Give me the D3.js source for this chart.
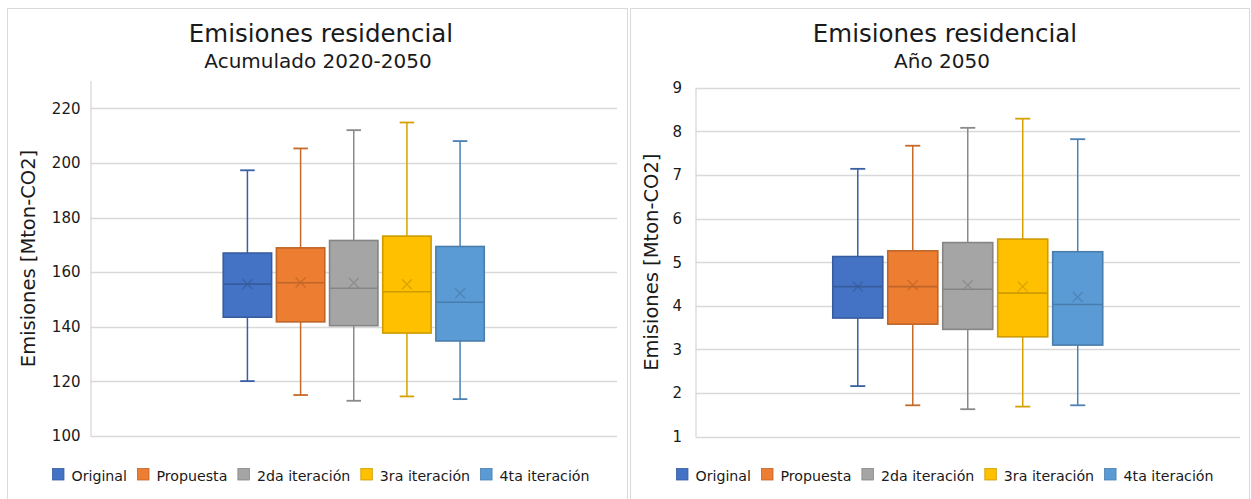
<!DOCTYPE html>
<html>
<head>
<meta charset="utf-8">
<script src="https://cdn.jsdelivr.net/npm/d3@7"></script>
<style>
  html, body { margin: 0; padding: 0; background: #fff; }
  svg { display: block; font-family: "DejaVu Sans", Verdana, sans-serif; }
</style>
</head>
<body>
<svg id="chart" width="1251" height="499"></svg>
<script>
// Series shown in both panels
const seriesNames = ["Original", "Propuesta", "2da iteración", "3ra iteración", "4ta iteración"];
const seriesColors = ["#4472C4", "#ED7D31", "#A5A5A5", "#FFC000", "#5B9BD5"];

// Cumulative emissions 2020-2050 [Mton-CO2]
const accMin    = [120.1, 115.0, 112.9, 114.5, 113.5];
const accQ1     = [143.5, 141.8, 140.4, 137.7, 134.8];
const accMedian = [155.6, 156.1, 154.1, 152.8, 149.0];
const accQ3     = [167.0, 168.9, 171.6, 173.2, 169.4];
const accMax    = [197.3, 205.3, 212.0, 214.8, 208.0];
const accMean   = [155.6, 156.2, 156.1, 155.6, 152.3];
const accTicks  = [100, 120, 140, 160, 180, 200, 220];

// Emissions in year 2050 [Mton-CO2]
const y50Min    = [2.16, 1.72, 1.63, 1.69, 1.72];
const y50Q1     = [3.72, 3.58, 3.46, 3.29, 3.10];
const y50Median = [4.44, 4.44, 4.38, 4.29, 4.03];
const y50Q3     = [5.13, 5.26, 5.45, 5.53, 5.24];
const y50Max    = [7.14, 7.67, 8.08, 8.29, 7.82];
const y50Mean   = [4.44, 4.47, 4.47, 4.44, 4.20];
const y50Ticks  = [1, 2, 3, 4, 5, 6, 7, 8, 9];

const svg = d3.select("#chart");
const textColor = "#1a1a1a";
const gridColor = "#d9d9d9";

function buildRows(mins, q1s, meds, q3s, maxs, means) {
  return seriesNames.map((name, i) => ({
    name, color: seriesColors[i],
    min: mins[i], q1: q1s[i], median: meds[i], q3: q3s[i], max: maxs[i], mean: means[i]
  }));
}

function drawPanel(cfg) {
  const g = svg.append("g");

  // outer frame of the chart area
  g.append("rect")
    .attr("x", cfg.frame.x + 0.5).attr("y", cfg.frame.y + 0.5)
    .attr("width", cfg.frame.w).attr("height", cfg.frame.h)
    .attr("fill", "#fff").attr("stroke", gridColor).attr("stroke-width", 1);

  const cx = cfg.titleX;

  g.append("text")
    .attr("x", cx).attr("y", 41.5)
    .attr("text-anchor", "middle")
    .attr("font-size", 24.5).attr("fill", textColor)
    .text(cfg.title);
  g.append("text")
    .attr("x", cx - 3).attr("y", 68)
    .attr("text-anchor", "middle")
    .attr("font-size", 20).attr("fill", textColor)
    .text(cfg.subtitle);

  const p = cfg.plot;
  const y = d3.scaleLinear().domain(cfg.domain).range([p.bottom, p.top]);

  // gridlines
  g.append("g").selectAll("line").data(cfg.ticks).join("line")
    .attr("x1", p.left).attr("x2", p.right)
    .attr("y1", d => Math.round(y(d)) + 0.5).attr("y2", d => Math.round(y(d)) + 0.5)
    .attr("stroke", gridColor).attr("stroke-width", 1.3);

  // vertical axis line
  g.append("line")
    .attr("x1", p.left + 0.5).attr("x2", p.left + 0.5)
    .attr("y1", p.top).attr("y2", p.bottom)
    .attr("stroke", gridColor).attr("stroke-width", 1.3);

  // tick labels
  const axis = d3.axisLeft(y).tickValues(cfg.ticks).tickSize(0).tickPadding(cfg.tickPad);
  const ax = g.append("g").attr("transform", `translate(${p.left},0)`).call(axis);
  ax.select(".domain").remove();
  ax.selectAll("text")
    .attr("font-size", 15).attr("fill", textColor)
    .attr("font-family", "DejaVu Sans, Verdana, sans-serif");

  // y axis title
  g.append("text")
    .attr("transform", `translate(${cfg.yTitleX},${(p.top + p.bottom) / 2}) rotate(-90)`)
    .attr("text-anchor", "middle").attr("dominant-baseline", "central")
    .attr("font-size", 19.5).attr("fill", textColor)
    .text("Emisiones [Mton-CO2]");

  // band scales: one category holding five series
  const outer = d3.scaleBand().domain(["all"]).range([p.left, p.right]).padding(0.329);
  const inner = d3.scaleBand().domain(seriesNames)
    .range([0, outer.bandwidth()]).paddingInner(0.09).paddingOuter(0.045);

  const rows = cfg.rows;
  const bw = inner.bandwidth();
  const capW = bw * 0.3;

  const boxes = g.append("g").selectAll("g").data(rows).join("g")
    .attr("transform", d => `translate(${outer("all") + inner(d.name)},0)`);

  const lineCol = d => d3.color(d.color).darker(0.5).formatHex();
  const edgeCol = d => d3.color(d.color).darker(0.6).formatHex();

  // whiskers
  boxes.append("line")
    .attr("x1", bw / 2).attr("x2", bw / 2)
    .attr("y1", d => y(d.max)).attr("y2", d => y(d.q3))
    .attr("stroke", lineCol).attr("stroke-width", 1.5);
  boxes.append("line")
    .attr("x1", bw / 2).attr("x2", bw / 2)
    .attr("y1", d => y(d.q1)).attr("y2", d => y(d.min))
    .attr("stroke", lineCol).attr("stroke-width", 1.5);
  boxes.append("line")
    .attr("x1", bw / 2 - capW / 2).attr("x2", bw / 2 + capW / 2)
    .attr("y1", d => y(d.max)).attr("y2", d => y(d.max))
    .attr("stroke", lineCol).attr("stroke-width", 1.8);
  boxes.append("line")
    .attr("x1", bw / 2 - capW / 2).attr("x2", bw / 2 + capW / 2)
    .attr("y1", d => y(d.min)).attr("y2", d => y(d.min))
    .attr("stroke", lineCol).attr("stroke-width", 1.8);

  // boxes
  boxes.append("rect")
    .attr("x", 0).attr("width", bw)
    .attr("y", d => y(d.q3)).attr("height", d => y(d.q1) - y(d.q3))
    .attr("fill", d => d.color)
    .attr("stroke", edgeCol).attr("stroke-width", 1.6);

  // median
  boxes.append("line")
    .attr("x1", 0).attr("x2", bw)
    .attr("y1", d => y(d.median)).attr("y2", d => y(d.median))
    .attr("stroke", edgeCol).attr("stroke-width", 1.6);

  // mean marker
  const m = 5;
  boxes.append("path")
    .attr("d", d => {
      const c = bw / 2, v = y(d.mean);
      return `M${c - m},${v - m}L${c + m},${v + m}M${c - m},${v + m}L${c + m},${v - m}`;
    })
    .attr("stroke", edgeCol).attr("stroke-opacity", 0.75).attr("stroke-width", 1.4)
    .attr("fill", "none");

  // legend
  const legend = g.append("g");
  const items = legend.selectAll("g").data(rows).join("g");
  items.append("rect")
    .attr("width", 11.5).attr("height", 11.5).attr("y", 468.5)
    .attr("fill", d => d.color).attr("stroke", edgeCol).attr("stroke-width", 0.8);
  items.append("text")
    .attr("x", 19).attr("y", 480.5)
    .attr("font-size", 14.2).attr("fill", textColor)
    .text(d => d.name);
  let xPos = 0;
  const offsets = [];
  items.each(function () {
    offsets.push(xPos);
    const w = d3.select(this).select("text").node().getComputedTextLength();
    xPos += 19 + w + 10.5;
  });
  const total = xPos - 10.5;
  const start = cx - total / 2;
  items.attr("transform", (d, i) => `translate(${start + offsets[i]},0)`);
}

drawPanel({
  frame: { x: 7, y: 8, w: 620, h: 500 },
  titleX: 321,
  title: "Emisiones residencial",
  subtitle: "Acumulado 2020-2050",
  plot: { left: 90.5, right: 617, top: 81, bottom: 436 },
  domain: [100, 230],
  ticks: accTicks,
  tickPad: 10,
  yTitleX: 28,
  rows: buildRows(accMin, accQ1, accMedian, accQ3, accMax, accMean)
});

drawPanel({
  frame: { x: 630, y: 8, w: 619, h: 500 },
  titleX: 945,
  title: "Emisiones residencial",
  subtitle: "Año 2050",
  plot: { left: 695.5, right: 1240, top: 87.7, bottom: 436.7 },
  domain: [1, 9],
  ticks: y50Ticks,
  tickPad: 13.5,
  yTitleX: 651,
  rows: buildRows(y50Min, y50Q1, y50Median, y50Q3, y50Max, y50Mean)
});
</script>
</body>
</html>
